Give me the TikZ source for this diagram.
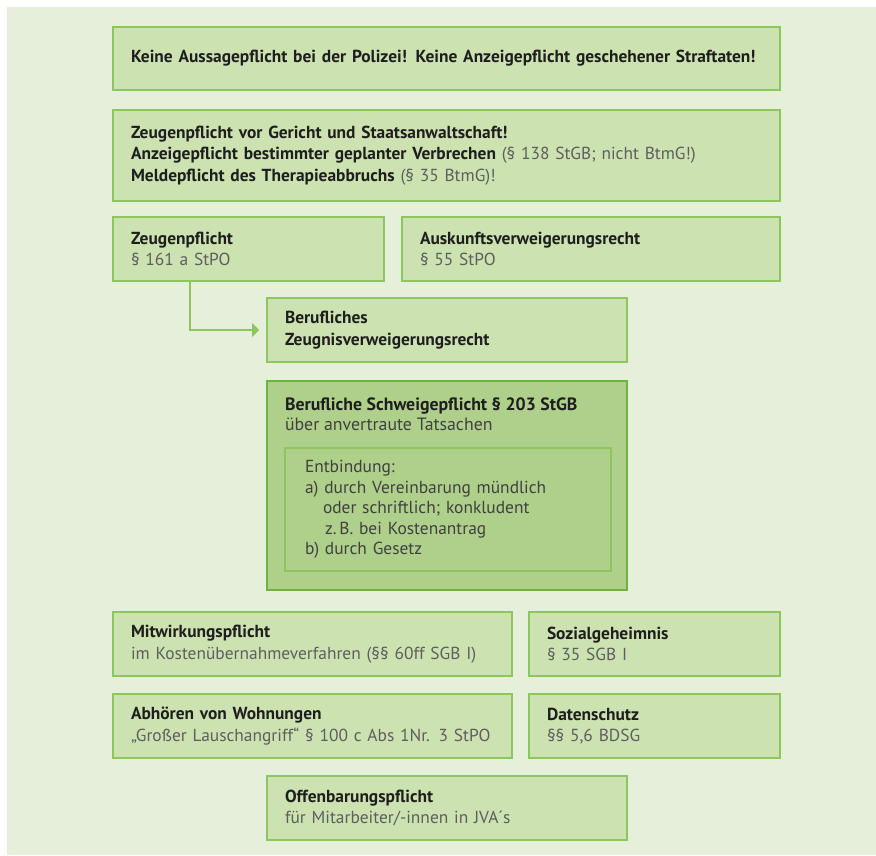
\documentclass[tikz,border=0pt]{standalone}
\usepackage{fontspec}
\setmainfont{PT Sans}
\usetikzlibrary{arrows.meta,positioning}
\definecolor{pagebg}{HTML}{E6EFD9}
\definecolor{boxfill}{HTML}{CDE2B1}
\definecolor{boxline}{HTML}{8DC65C}
\definecolor{keyfill}{HTML}{AFD08A}
\definecolor{keyline}{HTML}{6DB43F}
\definecolor{headink}{HTML}{1E1E1E}
\definecolor{bodyink}{HTML}{5E5E5E}
\newcommand{\kopf}[1]{{\color{headink}\bfseries #1}}

\begin{document}
\begin{tikzpicture}[
  x=1pt, y=1pt,
  >={Triangle[length=7pt,width=14pt]},
  boxw/.code={\pgfmathsetlengthmacro\boxtw{#1-36pt}%
              \tikzset{minimum width=#1, text width=\boxtw}},
  box/.style={draw=boxline, fill=boxfill, line width=1.5pt, outer sep=0pt,
              inner xsep=18pt, inner ysep=0pt, minimum height=64pt,
              align=left, text=bodyink,
              font=\fontsize{17.4}{21.5}\selectfont},
  keybox/.style={box, draw=keyline, fill=keyfill},
  plain/.style={inner sep=0pt, outer sep=0pt, align=left, text=headink,
                font=\fontsize{17.8}{20}\selectfont},
  link/.style={draw=boxline, line width=2pt, ->, shorten >=8pt},
]
\useasboundingbox (0,0) rectangle (876,-855);
\fill[white] (0,0) rectangle (876,-855);
\fill[pagebg] (7,-7) rectangle (876,-855);

% --- top row: general duties ---
\node[box, boxw=667pt, minimum height=63pt, anchor=north west] (keine) at (113,-27)
  {\kopf{Keine Aussagepflicht bei der Polizei! Keine Anzeigepflicht geschehener Straftaten!}};
\node[box, boxw=667pt, minimum height=91pt, below right=20pt and 0pt of keine.south west] (pflichten)
  {\kopf{Zeugenpflicht vor Gericht und Staatsanwaltschaft!}\\
   \kopf{Anzeigepflicht bestimmter geplanter Verbrechen} (§ 138 StGB; nicht BtmG!)\\
   \kopf{Meldepflicht des Therapieabbruchs} (§ 35 BtmG)!};

% --- witness duty / refusal ---
\node[box, boxw=271pt, below right=16pt and 0pt of pflichten.south west] (zeugen)
  {\kopf{Zeugenpflicht}\\§ 161 a StPO};
\node[box, boxw=378pt, below left=16pt and 0pt of pflichten.south east] (auskunft)
  {\kopf{Auskunftsverweigerungsrecht}\\§ 55 StPO};
\node[box, boxw=360pt, below right=17pt and 154pt of zeugen.south west] (zeugnis)
  {\kopf{Berufliches}\\\kopf{Zeugnisverweigerungsrecht}};

% --- professional secrecy ---
\node[keybox, boxw=360pt, minimum height=209pt, below=19pt of zeugnis] (schweige) {};
\node[plain, below right=17pt and 18pt of schweige.north west] (schweigetitel)
  {\bfseries Berufliche Schweigepflicht § 203 StGB\\
   {\color{headink!85}über anvertraute Tatsachen}};
\node[keybox, draw=boxline, line width=1.2pt, boxw=322pt, minimum height=123pt,
      inner xsep=20pt, text=headink!85, font=\fontsize{17.4}{20.5}\selectfont,
      below right=67pt and 18pt of schweige.north west] (entbindung)
  {Entbindung:\\
   a) durch Vereinbarung mündlich\\
   \hspace*{18pt}oder schriftlich; konkludent\\
   \hspace*{20pt}z.\,B. bei Kostenantrag\\
   b) durch Gesetz};

% --- further duties ---
\node[box, boxw=399pt, below right=22pt and 0pt of zeugen.south west |- schweige.south] (mitwirkung)
  {\kopf{Mitwirkungspflicht}\\im Kostenübernahmeverfahren (§§ 60ff SGB I)};
\node[box, boxw=251pt, below left=22pt and 0pt of auskunft.south east |- schweige.south] (sozial)
  {\kopf{Sozialgeheimnis}\\§ 35 SGB I};
\node[box, boxw=399pt, below right=18pt and 0pt of mitwirkung.south west] (abhoeren)
  {\kopf{Abhören von Wohnungen}\\„Großer Lauschangriff“ § 100 c Abs 1Nr. 3 StPO};
\node[box, boxw=251pt, below left=18pt and 0pt of sozial.south east] (datenschutz)
  {\kopf{Datenschutz}\\§§ 5,6 BDSG};
\node[box, boxw=360pt, below=18pt of abhoeren.south -| zeugnis] (offenbarung)
  {\kopf{Offenbarungspflicht}\\für Mitarbeiter/-innen in JVA´s};

% witness duty leads to the right of refusal
\draw[link] ([xshift=77pt]zeugen.south west) |- (zeugnis.west);
\end{tikzpicture}
\end{document}
